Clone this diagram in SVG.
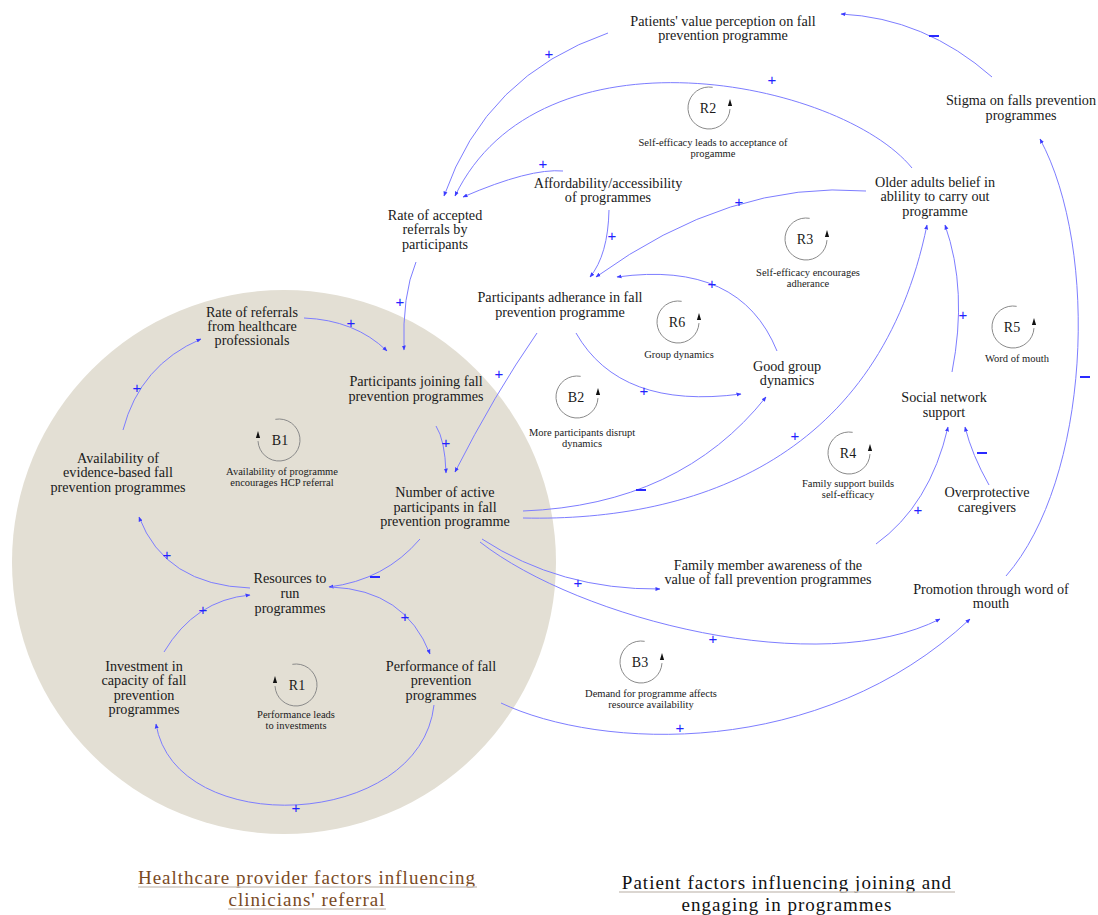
<svg xmlns="http://www.w3.org/2000/svg" xmlns:xlink="http://www.w3.org/1999/xlink" width="1098" height="915" viewBox="0 0 1098 915">
<style>
.n{font-family:"Liberation Serif","Times New Roman",serif;font-size:14.2px;fill:#1a1a1a;text-anchor:middle}
.s{font-family:"Liberation Serif","Times New Roman",serif;font-size:10.5px;fill:#1a1a1a;text-anchor:middle}
.l{font-family:"Liberation Serif","Times New Roman",serif;font-size:14px;fill:#1a1a1a;text-anchor:middle}
.t{font-family:"Liberation Serif","Times New Roman",serif;font-size:19px;letter-spacing:1px;text-anchor:middle}
.c{fill:none;stroke:#7d7dff;stroke-width:1;marker-end:url(#ah)}
.p{font-family:"Liberation Sans",Arial,sans-serif;font-size:15px;fill:#2222ff;text-anchor:middle}
.m{stroke:#2a2aff;stroke-width:2}
.arc{fill:none;stroke:#8a8a8a;stroke-width:1}
.ul{stroke:#cfc9c2;stroke-width:1.3}
</style>
<defs>
<marker id="ah" viewBox="0 0 10 10" refX="9" refY="5" markerWidth="5" markerHeight="5" orient="auto" markerUnits="userSpaceOnUse">
<path d="M0,1 L10,5 L0,9 z" fill="#3c3cff"/>
</marker>
<g id="loopR">
<path class="arc" d="M3.65,-20.68 A21,21 0 1 0 20.97,1.1"/>
<path d="M21,-9 L18.9,-2 L23.1,-2 z" fill="#111"/>
</g>
<g id="loopL">
<path class="arc" d="M-3.65,-20.68 A21,21 0 1 1 -20.97,1.1"/>
<path d="M-21,-9 L-23.1,-2 L-18.9,-2 z" fill="#111"/>
</g>
</defs>
<rect width="1098" height="915" fill="#ffffff"/>
<circle id="provider-area" cx="284" cy="562" r="272" fill="#e3dfd4"/>

<g id="connectors">
<path class="c" d="M608,33 Q486,75 444,196"/>
<path class="c" d="M912,168 C840,80 540,20 455,196"/>
<path class="c" d="M563,171 Q530,168 463,197"/>
<path class="c" d="M992,77 Q925,18 841,14"/>
<path class="c" d="M1006,576 C1090,480 1100,250 1040,139"/>
<path class="c" d="M952,372 Q968,290 945,225"/>
<path class="c" d="M523,518 C700,522 880,455 927,225"/>
<path class="c" d="M866,191 Q730,180 596,277"/>
<path class="c" d="M609,210 Q608,255 590,277"/>
<path class="c" d="M777,351 Q740,260 617,277"/>
<path class="c" d="M576,333 Q620,410 741,394"/>
<path class="c" d="M523,511 Q680,505 766,397"/>
<path class="c" d="M537,333 Q494,395 455,472"/>
<path class="c" d="M436,426 Q445,440 446,473"/>
<path class="c" d="M416,262 Q402,295 404,350"/>
<path class="c" d="M304,318 Q355,320 387,351"/>
<path class="c" d="M123,430 Q140,365 201,339"/>
<path class="c" d="M250,588 Q165,585 139,517"/>
<path class="c" d="M420,539 Q385,580 329,587"/>
<path class="c" d="M331,587 Q405,590 430,654"/>
<path class="c" d="M164,652 Q195,600 250,595"/>
<path class="c" d="M434,705 C420,830 175,840 156,724"/>
<path class="c" d="M482,539 Q560,590 660,589"/>
<path class="c" d="M480,542 C580,620 820,680 940,619"/>
<path class="c" d="M501,703 C600,750 820,760 970,619"/>
<path class="c" d="M876,544 Q930,505 948,427"/>
<path class="c" d="M989,485 Q972,455 965,427"/>
</g>

<g id="polarities">
<text class="p" x="549" y="59">+</text>
<text class="p" x="772" y="85">+</text>
<text class="p" x="543" y="169">+</text>
<line class="m" x1="929" y1="36" x2="939" y2="36"/>
<line class="m" x1="1080" y1="377" x2="1090" y2="377"/>
<text class="p" x="963" y="320">+</text>
<text class="p" x="795" y="441">+</text>
<text class="p" x="739" y="207">+</text>
<text class="p" x="612" y="241">+</text>
<text class="p" x="712" y="289">+</text>
<text class="p" x="644" y="396">+</text>
<line class="m" x1="636" y1="490" x2="646" y2="490"/>
<text class="p" x="499" y="379">+</text>
<text class="p" x="446" y="448">+</text>
<text class="p" x="400" y="307">+</text>
<text class="p" x="351" y="328">+</text>
<text class="p" x="137" y="393">+</text>
<text class="p" x="167" y="560">+</text>
<line class="m" x1="370" y1="577" x2="380" y2="577"/>
<text class="p" x="405" y="622">+</text>
<text class="p" x="203" y="615">+</text>
<text class="p" x="296" y="813">+</text>
<text class="p" x="578" y="588">+</text>
<text class="p" x="713" y="644">+</text>
<text class="p" x="680" y="733">+</text>
<text class="p" x="918" y="515">+</text>
<line class="m" x1="977" y1="453" x2="987" y2="453"/>
</g>

<g id="node-patients-value"><text class="n" x="723" y="25.5">Patients' value perception on fall</text><text class="n" x="723" y="40">prevention programme</text></g>
<g id="node-stigma"><text class="n" x="1021" y="104.5">Stigma on falls prevention</text><text class="n" x="1021" y="119.5">programmes</text></g>
<g id="node-older-adults"><text class="n" x="935" y="186.5">Older adults belief in</text><text class="n" x="935" y="201">ablility to carry out</text><text class="n" x="935" y="215.5">programme</text></g>
<g id="node-affordability"><text class="n" x="608" y="187.5">Affordability/accessibility</text><text class="n" x="608" y="201.5">of programmes</text></g>
<g id="node-rate-accepted"><text class="n" x="435" y="219.5">Rate of accepted</text><text class="n" x="435" y="234">referrals by</text><text class="n" x="435" y="248.5">participants</text></g>
<g id="node-adherance"><text class="n" x="560" y="301.5">Participants adherance in fall</text><text class="n" x="560" y="317">prevention programme</text></g>
<g id="node-good-group"><text class="n" x="787" y="370.5">Good group</text><text class="n" x="787" y="385">dynamics</text></g>
<g id="node-social-network"><text class="n" x="944" y="402">Social network</text><text class="n" x="944" y="416.5">support</text></g>
<g id="node-overprotective"><text class="n" x="987" y="497">Overprotective</text><text class="n" x="987" y="511.5">caregivers</text></g>
<g id="node-family"><text class="n" x="768" y="569.5">Family member awareness of the</text><text class="n" x="768" y="583.5">value of fall prevention programmes</text></g>
<g id="node-promotion"><text class="n" x="991" y="593.5">Promotion through word of</text><text class="n" x="991" y="608">mouth</text></g>
<g id="node-rate-referrals"><text class="n" x="252" y="316.5">Rate of referrals</text><text class="n" x="252" y="330.5">from healthcare</text><text class="n" x="252" y="344.5">professionals</text></g>
<g id="node-joining"><text class="n" x="416" y="385.5">Participants joining fall</text><text class="n" x="416" y="400.5">prevention programmes</text></g>
<g id="node-availability"><text class="n" x="118" y="462.5">Availability of</text><text class="n" x="118" y="476.5">evidence-based fall</text><text class="n" x="118" y="491.5">prevention programmes</text></g>
<g id="node-number-active"><text class="n" x="445" y="496.5">Number of active</text><text class="n" x="445" y="511.5">participants in fall</text><text class="n" x="445" y="525.5">prevention programme</text></g>
<g id="node-resources"><text class="n" x="290" y="582.5">Resources to</text><text class="n" x="290" y="597.5">run</text><text class="n" x="290" y="612.5">programmes</text></g>
<g id="node-investment"><text class="n" x="144" y="670.5">Investment in</text><text class="n" x="144" y="684.5">capacity of fall</text><text class="n" x="144" y="699.5">prevention</text><text class="n" x="144" y="713.5">programmes</text></g>
<g id="node-performance"><text class="n" x="441" y="670.5">Performance of fall</text><text class="n" x="441" y="684.5">prevention</text><text class="n" x="441" y="699.5">programmes</text></g>

<g id="loop-R2"><use xlink:href="#loopR" x="709" y="108"/><text class="l" x="708" y="113">R2</text><text class="s" x="713" y="146">Self-efficacy leads to acceptance of</text><text class="s" x="713" y="157">progamme</text></g>
<g id="loop-R3"><use xlink:href="#loopR" x="806" y="239"/><text class="l" x="805" y="244">R3</text><text class="s" x="808" y="276">Self-efficacy encourages</text><text class="s" x="808" y="287">adherance</text></g>
<g id="loop-R6"><use xlink:href="#loopR" x="678" y="322"/><text class="l" x="677" y="327">R6</text><text class="s" x="679" y="358">Group dynamics</text></g>
<g id="loop-B2"><use xlink:href="#loopR" x="577" y="397"/><text class="l" x="576" y="402">B2</text><text class="s" x="582" y="436">More participants disrupt</text><text class="s" x="582" y="447">dynamics</text></g>
<g id="loop-R5"><use xlink:href="#loopR" x="1013" y="327"/><text class="l" x="1012" y="332">R5</text><text class="s" x="1017" y="362">Word of mouth</text></g>
<g id="loop-R4"><use xlink:href="#loopR" x="849" y="453"/><text class="l" x="848" y="458">R4</text><text class="s" x="848" y="487">Family support builds</text><text class="s" x="848" y="498">self-efficacy</text></g>
<g id="loop-B1"><use xlink:href="#loopL" x="279" y="440"/><text class="l" x="280" y="445">B1</text><text class="s" x="282" y="475">Availability of programme</text><text class="s" x="282" y="486">encourages HCP referral</text></g>
<g id="loop-R1"><use xlink:href="#loopL" x="296" y="685"/><text class="l" x="297" y="690">R1</text><text class="s" x="296" y="718">Performance leads</text><text class="s" x="296" y="729">to investments</text></g>
<g id="loop-B3"><use xlink:href="#loopR" x="641" y="662"/><text class="l" x="640" y="667">B3</text><text class="s" x="651" y="697">Demand for programme affects</text><text class="s" x="651" y="708">resource availability</text></g>

<g id="title-provider">
<text class="t" x="307" y="884" fill="#7a4a1f">Healthcare provider factors influencing</text>
<text class="t" x="307" y="906" fill="#7a4a1f">clinicians' referral</text>
<line class="ul" x1="138" y1="887" x2="477" y2="887"/>
<line class="ul" x1="228" y1="909" x2="386" y2="909"/>
</g>
<g id="title-patient">
<text class="t" x="787" y="889" fill="#111">Patient factors influencing joining and</text>
<text class="t" x="787" y="911" fill="#111">engaging in programmes</text>
<line class="ul" x1="619" y1="892" x2="955" y2="892"/>
</g>
</svg>
